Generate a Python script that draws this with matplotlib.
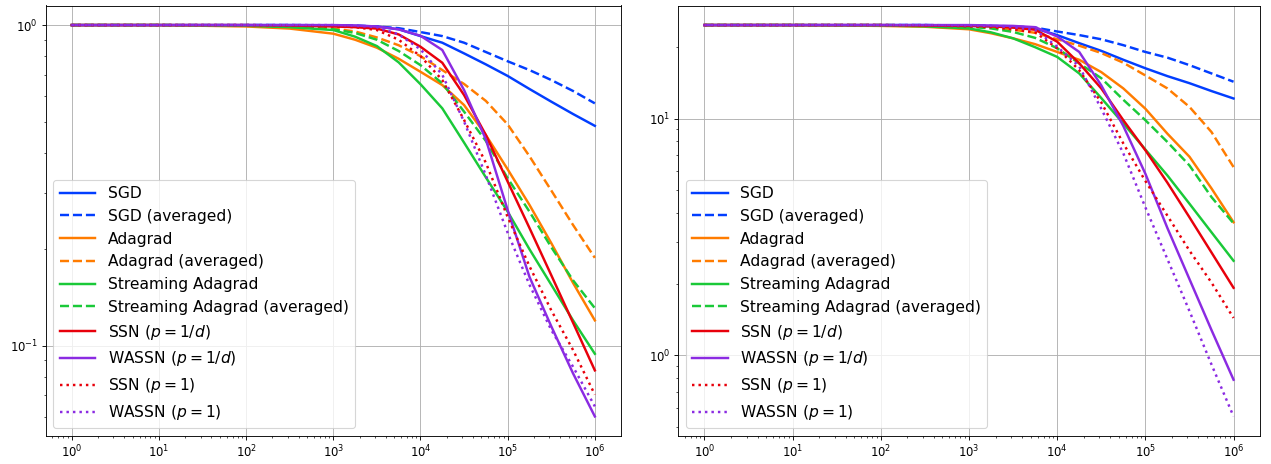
import numpy as np
import matplotlib
matplotlib.use("Agg")
import matplotlib.pyplot as plt

# x positions (iterations), in decades
decades = [0, 1, 2, 2.5, 3, 3.25, 3.5, 3.75, 4, 4.25, 4.5, 4.75, 5, 5.25, 5.5, 5.75, 6]
iters = [10.0 ** d for d in decades]

labels = [
    "SGD",
    "SGD (averaged)",
    "Adagrad",
    "Adagrad (averaged)",
    "Streaming Adagrad",
    "Streaming Adagrad (averaged)",
    "SSN ($p = 1/d$)",
    "WASSN ($p = 1/d$)",
    "SSN ($p = 1$)",
    "WASSN ($p = 1$)",
]

# left panel
left_sgd = [1, 1, 1, 1, 0.998, 0.995, 0.99, 0.97, 0.924, 0.881, 0.816, 0.754, 0.694, 0.632, 0.577, 0.528, 0.485]
left_sgd_avg = [1, 1, 1, 1, 0.998, 0.996, 0.99, 0.978, 0.951, 0.924, 0.881, 0.824, 0.771, 0.724, 0.674, 0.623, 0.570]
left_adagrad = [1, 1, 0.99, 0.975, 0.94, 0.90, 0.85, 0.785, 0.715, 0.65, 0.563, 0.454, 0.355, 0.275, 0.209, 0.157, 0.12]
left_adagrad_avg = [1, 1, 0.998, 0.99, 0.975, 0.955, 0.915, 0.865, 0.80, 0.724, 0.655, 0.58, 0.49, 0.39, 0.305, 0.238, 0.188]
left_stream = [1, 1, 0.995, 0.985, 0.965, 0.92, 0.86, 0.765, 0.654, 0.55, 0.43, 0.335, 0.262, 0.20, 0.155, 0.12, 0.0944]
left_stream_avg = [1, 1, 0.998, 0.99, 0.97, 0.945, 0.90, 0.83, 0.75, 0.658, 0.537, 0.435, 0.333, 0.262, 0.203, 0.16, 0.131]
left_ssn = [1, 1, 1, 0.997, 0.99, 0.985, 0.975, 0.935, 0.856, 0.763, 0.605, 0.454, 0.325, 0.233, 0.166, 0.118, 0.0838]
left_wassn = [1, 1, 1, 1, 1.0, 0.997, 0.99, 0.97, 0.926, 0.836, 0.627, 0.44, 0.265, 0.164, 0.115, 0.082, 0.0602]
left_ssn_1 = [1, 1, 1, 0.997, 0.99, 0.985, 0.965, 0.90, 0.80, 0.674, 0.506, 0.372, 0.252, 0.177, 0.129, 0.097, 0.0704]
left_wassn_1 = [1, 1, 1, 1, 1.0, 0.995, 0.985, 0.935, 0.84, 0.70, 0.50, 0.34, 0.225, 0.155, 0.112, 0.086, 0.0647]

# right panel
right_sgd = [24.8, 24.8, 24.8, 24.8, 24.6, 24.5, 24.3, 24.0, 22.5, 20.8, 19.3, 17.7, 16.3, 15.1, 14.1, 13.06, 12.15]
right_sgd_avg = [24.8, 24.8, 24.8, 24.8, 24.7, 24.6, 24.5, 24.2, 23.3, 22.5, 21.6, 20.4, 19.1, 18.07, 16.8, 15.5, 14.3]
right_adagrad = [24.8, 24.8, 24.6, 24.4, 23.8, 22.9, 21.8, 20.6, 19.1, 17.7, 15.7, 13.4, 11.0, 8.63, 6.9, 5.07, 3.65]
right_adagrad_avg = [24.8, 24.8, 24.8, 24.7, 24.5, 24.2, 23.7, 23.0, 21.6, 20.3, 18.9, 17.2, 15.2, 13.4, 11.2, 8.77, 6.24]
right_stream = [24.8, 24.8, 24.7, 24.5, 24.0, 23.1, 21.8, 20.0, 18.2, 15.5, 12.2, 9.53, 7.4, 5.75, 4.37, 3.31, 2.51]
right_stream_avg = [24.8, 24.8, 24.8, 24.7, 24.4, 24.0, 23.2, 21.9, 19.8, 17.1, 14.8, 12.0, 9.84, 7.96, 6.34, 4.66, 3.61]
right_ssn = [24.8, 24.8, 24.8, 24.7, 24.6, 24.5, 24.2, 23.7, 21.1, 17.1, 13.4, 9.84, 7.35, 5.36, 3.83, 2.72, 1.93]
right_wassn = [24.8, 24.8, 24.8, 24.8, 24.8, 24.7, 24.6, 24.3, 22.2, 19.1, 13.8, 9.3, 5.85, 3.45, 2.1, 1.28, 0.79]
right_ssn_1 = [24.8, 24.8, 24.8, 24.7, 24.5, 24.3, 23.8, 23.1, 19.8, 16.0, 11.7, 7.85, 5.45, 3.89, 2.77, 2.03, 1.44]
right_wassn_1 = [24.8, 24.8, 24.8, 24.8, 24.7, 24.6, 24.3, 23.7, 20.1, 16.6, 11.0, 7.13, 4.22, 2.55, 1.54, 0.916, 0.553]

# seaborn "bright" colours
C_BLUE = "#023eff"
C_ORANGE = "#ff7c00"
C_GREEN = "#1ac938"
C_RED = "#e8000b"
C_PURPLE = "#8b2be2"

styles = [
    (C_BLUE, "-"),
    (C_BLUE, "--"),
    (C_ORANGE, "-"),
    (C_ORANGE, "--"),
    (C_GREEN, "-"),
    (C_GREEN, "--"),
    (C_RED, "-"),
    (C_PURPLE, "-"),
    (C_RED, ":"),
    (C_PURPLE, ":"),
]

left_series = [left_sgd, left_sgd_avg, left_adagrad, left_adagrad_avg, left_stream,
               left_stream_avg, left_ssn, left_wassn, left_ssn_1, left_wassn_1]
right_series = [right_sgd, right_sgd_avg, right_adagrad, right_adagrad_avg, right_stream,
                right_stream_avg, right_ssn, right_wassn, right_ssn_1, right_wassn_1]

W, H = 1271, 464
fig = plt.figure(figsize=(W / 80, H / 80), dpi=80)
ax_l = fig.add_axes([45.6 / W, 1 - 436 / H, 575.4 / W, 430.5 / H])
ax_r = fig.add_axes([678 / W, 1 - 436 / H, 582 / W, 430.5 / H])

for ax, series in ((ax_l, left_series), (ax_r, right_series)):
    for vals, lab, (col, ls) in zip(series, labels, styles):
        ax.plot(iters, vals, color=col, linestyle=ls, linewidth=2.2, label=lab)
    ax.set_xscale("log")
    ax.set_yscale("log")
    ax.grid(True)
    ax.tick_params(labelsize=10.5)
    ax.legend(loc="lower left", fontsize=14, handlelength=2.3)

fig.savefig("out.png", dpi=80)
